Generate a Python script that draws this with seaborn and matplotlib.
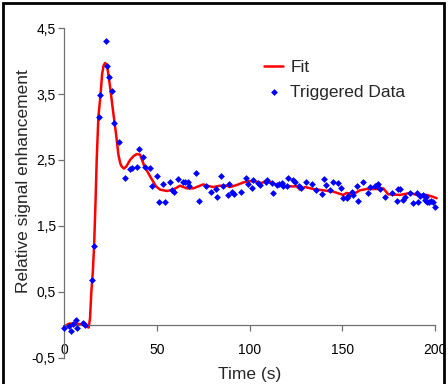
import matplotlib
matplotlib.use("Agg")
import matplotlib.pyplot as plt
import seaborn as sns
import pandas as pd
from matplotlib.patches import Rectangle
from matplotlib.ticker import FuncFormatter

# triggered data points (time in s, relative enhancement)
data_t = [0.2, 2.7, 3.8, 4.9, 6.3, 7.2, 10.2, 11.3, 15.3, 16.2, 18.7, 19.6,
          22.5, 23.4, 24.3, 26.0, 27.0, 29.5, 33.0, 35.8, 36.7, 39.4, 40.3,
          42.8, 43.7, 46.4, 47.3, 50.0, 51.0, 53.4, 54.3, 57.1, 58.1, 59.5,
          61.5, 64.3, 65.2, 67.0, 67.6, 71.2, 72.9, 76.5, 79.1, 81.9, 82.7,
          84.6, 85.5, 88.2, 88.9, 90.7, 91.6, 95.2, 97.9, 99.0, 101.2, 102.1,
          104.8, 105.7, 108.9, 109.6, 112.0, 112.8, 115.0, 116.1, 117.4,
          118.2, 120.1, 120.9, 123.6, 124.5, 126.9, 127.6, 130.5, 133.5,
          135.8, 138.9, 140.2, 141.2, 143.4, 144.8, 147.9, 149.1, 150.2,
          152.4, 153.3, 155.1, 156.0, 158.0, 158.7, 161.4, 164.1, 165.0,
          167.7, 168.6, 169.5, 170.4, 173.0, 176.7, 179.3, 180.2, 181.1,
          182.9, 183.8, 186.5, 188.3, 190.1, 191.0, 191.9, 193.7, 194.6,
          195.1, 195.9, 196.9, 197.7, 198.8, 200.0]
data_y = [-0.05, -0.02, -0.09, 0.01, 0.08, -0.04, 0.03, 0.00, 0.68, 1.19, 3.15, 3.49,
          4.31, 3.92, 3.76, 3.54, 3.06, 2.77, 2.23, 2.36, 2.38, 2.40, 2.66,
          2.55, 2.39, 2.38, 2.11, 2.25, 1.86, 2.13, 1.86, 2.16, 2.04, 2.02,
          2.21, 2.16, 2.17, 2.16, 2.10, 2.31, 1.88, 2.11, 2.02, 2.06, 1.94,
          2.26, 2.10, 1.97, 2.14, 2.02, 1.98, 2.02, 2.23, 2.13, 2.07, 2.19,
          2.15, 2.12, 2.17, 2.19, 2.15, 2.00, 2.12, 2.14, 2.15,
          2.10, 2.10, 2.22, 2.20, 2.17, 2.10, 2.07, 2.16, 2.14,
          2.05, 1.98, 2.21, 2.12, 2.04, 2.16, 2.15, 2.07, 1.93,
          1.92, 1.95, 2.01, 1.97, 2.10, 1.88, 2.16, 2.00, 2.09,
          2.10, 2.12, 2.13, 2.06, 1.94, 2.00, 1.88, 2.06, 2.06,
          1.89, 1.94, 2.00, 1.85, 2.00, 1.87, 1.95, 1.97, 1.90,
          1.94, 1.87, 1.87, 1.88, 1.87, 1.79]

# fitted curve
fit_t = [0, 3, 6, 9, 11, 12.5, 13.3, 14.0, 14.7, 15.5, 16.2, 17.0, 17.6, 18.5,
         19.7, 20.5, 21.3, 22.1, 22.8, 23.4, 24.8, 26.6, 28.0, 29.3, 30.3,
         31.1, 32.3, 33.5, 35.6, 37.5, 39.2, 41.0, 43.1, 46.4, 49.6, 51.8,
         55.4, 58.9, 62.5, 66.1, 69.7, 72.4, 75.1, 76.9, 80.5, 84.1, 87.7,
         89.5, 93.1, 96.7, 100.3, 103.8, 106.5, 109.2, 111.9, 115.5, 118.2,
         121.8, 125.4, 127.2, 129.9, 134.4, 139.8, 145.1, 150.5, 152.3, 155.9,
         159.5, 163.1, 170.3, 172.1, 174.8, 181.1, 186.5, 190.1, 195.5, 199.1,
         200.9]
fit_y = [-0.02, 0.02, 0.02, 0.01, 0.02, -0.03, -0.04, 0.1, 0.5, 0.8, 1.2, 1.9,
         2.5, 3.15, 3.5, 3.8, 3.93, 3.97, 3.95, 3.89, 3.61, 3.2, 2.9, 2.58,
         2.45, 2.40, 2.37, 2.40, 2.50, 2.56, 2.59, 2.58, 2.42, 2.25, 2.10,
         2.05, 2.03, 2.05, 2.11, 2.07, 2.07, 2.10, 2.13, 2.11, 2.09, 2.11,
         2.11, 2.09, 2.12, 2.16, 2.18, 2.17, 2.15, 2.19, 2.15, 2.12, 2.11,
         2.10, 2.10, 2.05, 2.09, 2.06, 2.04, 2.02, 1.97, 2.00, 1.98, 2.04,
         2.06, 2.06, 2.07, 1.98, 1.97, 2.00, 1.97, 1.97, 1.94, 1.92]

x_ticks = [0, 50, 100, 150, 200]
y_ticks = [-0.5, 0.5, 1.5, 2.5, 3.5, 4.5]

sns.set_style("white")
plt.rcParams["font.family"] = ["Liberation Sans", "DejaVu Sans"]

fit_df = pd.DataFrame({"t": fit_t, "y": fit_y})
pts_df = pd.DataFrame({"t": data_t, "y": data_y})

fig = plt.figure(figsize=(4.48, 3.84), dpi=100)
ax = fig.add_axes([0.143, 0.068, 0.828, 0.859])

sns.lineplot(data=fit_df, x="t", y="y", ax=ax, color="#ff0000", lw=1.8,
             label="Fit", sort=False, clip_on=False)
sns.scatterplot(data=pts_df, x="t", y="y", ax=ax, color="#0000ff", marker="D",
                s=12, linewidth=0, label="Triggered Data", clip_on=False, zorder=3)

ax.set_xlim(0, 200)
ax.set_ylim(-0.5, 4.5)
ax.set_xticks(x_ticks)
ax.set_yticks(y_ticks)
ax.yaxis.set_major_formatter(FuncFormatter(lambda v, p: f"{v:.1f}".replace(".", ",")))

for s in ["top", "right"]:
    ax.spines[s].set_visible(False)
ax.spines["bottom"].set_position(("data", 0))
for s in ["left", "bottom"]:
    ax.spines[s].set_color("#707070")
    ax.spines[s].set_linewidth(0.9)

ax.tick_params(axis="both", direction="out", length=4, width=0.9, color="#707070",
               labelsize=10, labelcolor="black")
ax.tick_params(axis="x", pad=9, bottom=True)
ax.tick_params(axis="y", pad=2, left=True)

ax.set_xlabel("Time (s)", fontsize=12.5)
ax.set_ylabel("Relative signal enhancement", fontsize=12.5)
ax.xaxis.set_label_coords(0.5, -0.028)
ax.yaxis.set_label_coords(-0.09, 0.535)

leg = ax.legend(loc="upper left", bbox_to_anchor=(0.555, 0.885), bbox_transform=fig.transFigure,
                frameon=False, fontsize=12.5, handlelength=1.1, handletextpad=0.4,
                labelspacing=0.55, markerscale=1.0)

fig.patches.append(Rectangle((0.0067, -0.05), 0.9843, 1.042, transform=fig.transFigure,
                             fill=False, edgecolor="black", lw=2))

fig.savefig("out.png", dpi=100)
